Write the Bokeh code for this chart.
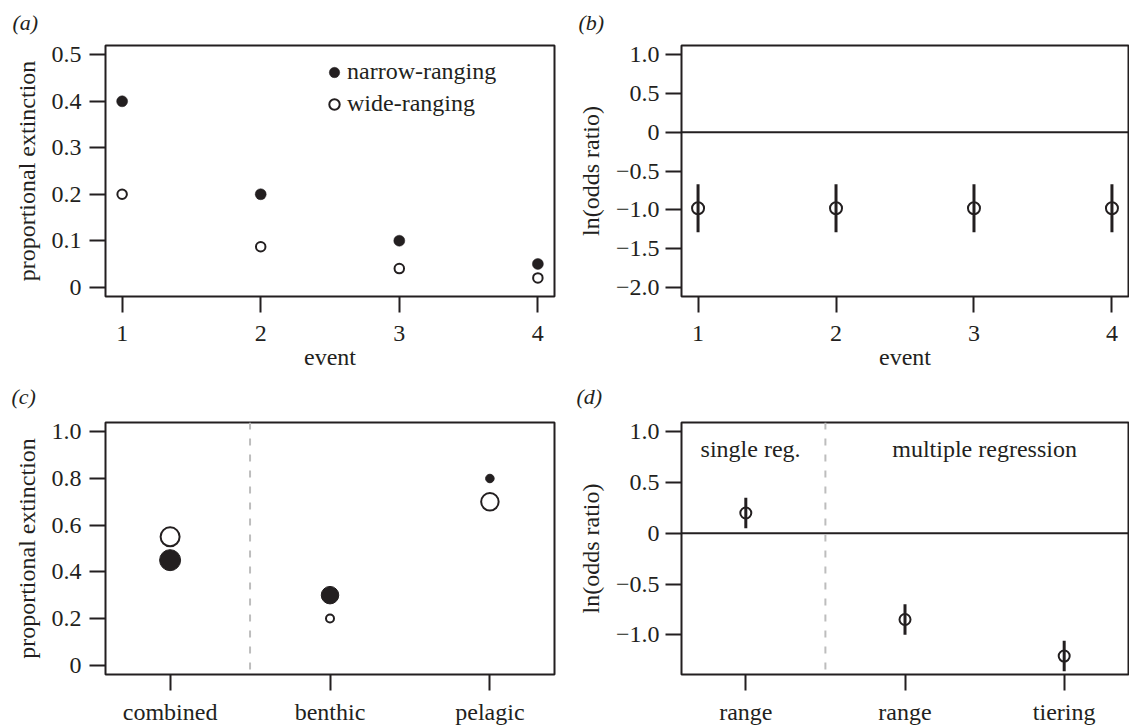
from bokeh.plotting import figure
from bokeh.models import Span, Label, Legend, LegendItem, FixedTicker, Range1d, ColumnDataSource
from bokeh.layouts import gridplot
from bokeh.embed import file_html
from bokeh.resources import INLINE

FONT = "Liberation Serif"
INK = "#231f20"
FS = "24px"

# ---------------- data ----------------
# (a) proportional extinction per event
events = [1, 2, 3, 4]
narrow_ext = [0.40, 0.20, 0.10, 0.05]
wide_ext = [0.20, 0.087, 0.04, 0.02]

# (b) ln(odds ratio) per event, with interval
or_event = [-0.98, -0.98, -0.98, -0.98]
or_event_lo = [-1.29, -1.29, -1.29, -1.29]
or_event_hi = [-0.67, -0.67, -0.67, -0.67]

# (c) proportional extinction by habitat (marker size ~ sample size)
habitats = ["combined", "benthic", "pelagic"]
narrow_hab = [0.45, 0.30, 0.80]
wide_hab = [0.55, 0.20, 0.70]
narrow_hab_n = [21, 17.5, 8.5]
wide_hab_n = [19, 8, 17.5]

# (d) ln(odds ratio) by predictor
predictors = ["range", "range", "tiering"]
or_pred = [0.20, -0.85, -1.21]
or_pred_lo = [0.05, -1.00, -1.36]
or_pred_hi = [0.35, -0.70, -1.06]

# tick labels
a_yticks = [0, 0.1, 0.2, 0.3, 0.4, 0.5]
a_ylabels = ["0", "0.1", "0.2", "0.3", "0.4", "0.5"]
b_yticks = [-2.0, -1.5, -1.0, -0.5, 0, 0.5, 1.0]
b_ylabels = ["\u22122.0", "\u22121.5", "\u22121.0", "\u22120.5", "0", "0.5", "1.0"]
c_yticks = [0, 0.2, 0.4, 0.6, 0.8, 1.0]
c_ylabels = ["0", "0.2", "0.4", "0.6", "0.8", "1.0"]
d_yticks = [-1.0, -0.5, 0, 0.5, 1.0]
d_ylabels = ["\u22121.0", "\u22120.5", "0", "0.5", "1.0"]


def rpad(lo, hi):
    d = (hi - lo) * 0.04
    return Range1d(lo - d, hi + d)


def make_fig(width, height, left, right, top, bottom, xr, yr, tag, tag_offset, tag_standoff):
    p = figure(width=width, height=height, x_range=xr, y_range=yr,
               output_backend="svg", toolbar_location=None,
               min_border_left=left, min_border_right=right,
               min_border_top=top, min_border_bottom=bottom)
    p.title.text = tag
    p.title.align = "left"
    p.title.offset = tag_offset
    p.title.standoff = tag_standoff
    p.title.text_font = FONT
    p.title.text_font_size = "22px"
    p.title.text_font_style = "italic"
    p.title.text_color = INK
    p.title.vertical_align = "top"
    p.outline_line_color = INK
    p.outline_line_width = 2
    p.grid.visible = False
    p.background_fill_color = "white"
    p.border_fill_color = "white"
    for ax in (p.xaxis[0], p.yaxis[0]):
        ax.axis_line_color = None
        ax.major_tick_out = 16
        ax.major_tick_in = 0
        ax.major_tick_line_width = 2
        ax.major_tick_line_color = INK
        ax.minor_tick_line_color = None
        ax.major_label_text_font = FONT
        ax.major_label_text_font_size = FS
        ax.major_label_text_color = INK
        ax.axis_label_text_font = FONT
        ax.axis_label_text_font_size = FS
        ax.axis_label_text_font_style = "normal"
        ax.axis_label_text_color = INK
    return p


def set_ticks(axis, ticks, labels):
    axis.ticker = FixedTicker(ticks=ticks)
    axis.major_label_overrides = {t: l for t, l in zip(ticks, labels)}


LW, RW = 562, 567
TH, BH = 372, 355

# ---------------- (a) ----------------
pa = make_fig(LW, TH, 105, 8, 43, 72, rpad(1, 4), rpad(0, 0.5), "(a)", -93, 18)
set_ticks(pa.xaxis[0], events, [str(e) for e in events])
set_ticks(pa.yaxis[0], a_yticks, a_ylabels)
pa.xaxis.axis_label = "event"
pa.yaxis.axis_label = "proportional extinction"
pa.xaxis.major_label_standoff = 13
pa.xaxis.axis_label_standoff = 0
pa.yaxis.major_label_standoff = 8
pa.yaxis.axis_label_standoff = 9
src_a = ColumnDataSource(dict(x=events, narrow=narrow_ext, wide=wide_ext))
rn = pa.scatter("x", "narrow", source=src_a, size=11, marker="circle",
                fill_color=INK, line_color=INK, line_width=0.5)
rw = pa.scatter("x", "wide", source=src_a, size=9.5, marker="circle",
                fill_color="white", line_color=INK, line_width=2)
leg = Legend(items=[LegendItem(label="narrow-ranging", renderers=[rn]),
                    LegendItem(label="wide-ranging", renderers=[rw])],
             location=(216, 179), glyph_width=26, glyph_height=26, label_standoff=0,
             spacing=5, padding=0, margin=0, border_line_color=None,
             background_fill_alpha=0, label_text_font=FONT, label_text_font_size=FS,
             label_text_color=INK, label_height=26)
pa.add_layout(leg)

# ---------------- (b) ----------------
pb = make_fig(RW, TH, 119, 1, 43, 72, rpad(1, 4), rpad(-2, 1), "(b)", -103, 18)
set_ticks(pb.xaxis[0], events, [str(e) for e in events])
set_ticks(pb.yaxis[0], b_yticks, b_ylabels)
pb.xaxis.axis_label = "event"
pb.yaxis.axis_label = "ln(odds ratio)"
pb.xaxis.major_label_standoff = 13
pb.xaxis.axis_label_standoff = 0
pb.yaxis.major_label_standoff = 6
pb.yaxis.axis_label_standoff = 9
pb.add_layout(Span(location=0, dimension="width", line_color=INK, line_width=2))
src_b = ColumnDataSource(dict(x=events, y=or_event, lo=or_event_lo, hi=or_event_hi))
pb.segment(x0="x", y0="lo", x1="x", y1="hi", source=src_b, line_color=INK, line_width=3)
pb.scatter("x", "y", source=src_b, size=12, marker="circle", fill_color=None,
           line_color=INK, line_width=2)

# ---------------- (c) ----------------
xc = [i + 1 for i in range(len(habitats))]
pc = make_fig(LW, BH, 105, 8, 49, 50, rpad(0.7, 3.3), rpad(0, 1), "(c)", -94, 23)
set_ticks(pc.xaxis[0], xc, habitats)
set_ticks(pc.yaxis[0], c_yticks, c_ylabels)
pc.yaxis.axis_label = "proportional extinction"
pc.xaxis.major_label_standoff = 8
pc.yaxis.major_label_standoff = 8
pc.yaxis.axis_label_standoff = 9
pc.add_layout(Span(location=1.5, dimension="height", line_color="#bdbdbd",
                   line_width=2, line_dash="7 9"))
src_c = ColumnDataSource(dict(x=xc, narrow=narrow_hab, wide=wide_hab,
                              ns=narrow_hab_n, ws=wide_hab_n))
pc.scatter("x", "narrow", source=src_c, size="ns", marker="circle",
           fill_color=INK, line_color=INK, line_width=1)
pc.scatter("x", "wide", source=src_c, size="ws", marker="circle",
           fill_color="white", line_color=INK, line_width=2)

# ---------------- (d) ----------------
xd = [i + 1 for i in range(len(predictors))]
pd_ = make_fig(RW, BH, 119, 1, 49, 50, rpad(0.7, 3.3), rpad(-1.3, 1.0), "(d)", -105, 23)
set_ticks(pd_.xaxis[0], xd, predictors)
set_ticks(pd_.yaxis[0], d_yticks, d_ylabels)
pd_.yaxis.axis_label = "ln(odds ratio)"
pd_.xaxis.major_label_standoff = 8
pd_.yaxis.major_label_standoff = 6
pd_.yaxis.axis_label_standoff = 9
pd_.add_layout(Span(location=0, dimension="width", line_color=INK, line_width=2))
pd_.add_layout(Span(location=1.5, dimension="height", line_color="#bdbdbd",
                    line_width=2, line_dash="7 9"))
src_d = ColumnDataSource(dict(x=xd, y=or_pred, lo=or_pred_lo, hi=or_pred_hi))
pd_.segment(x0="x", y0="lo", x1="x", y1="hi", source=src_d, line_color=INK, line_width=3)
pd_.scatter("x", "y", source=src_d, size=11, marker="circle", fill_color=None,
            line_color=INK, line_width=2)
pd_.add_layout(Label(x=1.03, y=0.83, text="single reg.", text_font=FONT, text_font_size=FS,
                     text_color=INK, text_align="center", text_baseline="alphabetic"))
pd_.add_layout(Label(x=2.5, y=0.83, text="multiple regression", text_font=FONT,
                     text_font_size=FS, text_color=INK, text_align="center",
                     text_baseline="alphabetic"))

grid = gridplot([[pa, pb], [pc, pd_]], toolbar_location=None)

with open("out.html", "w") as f:
    f.write(file_html(grid, INLINE))
